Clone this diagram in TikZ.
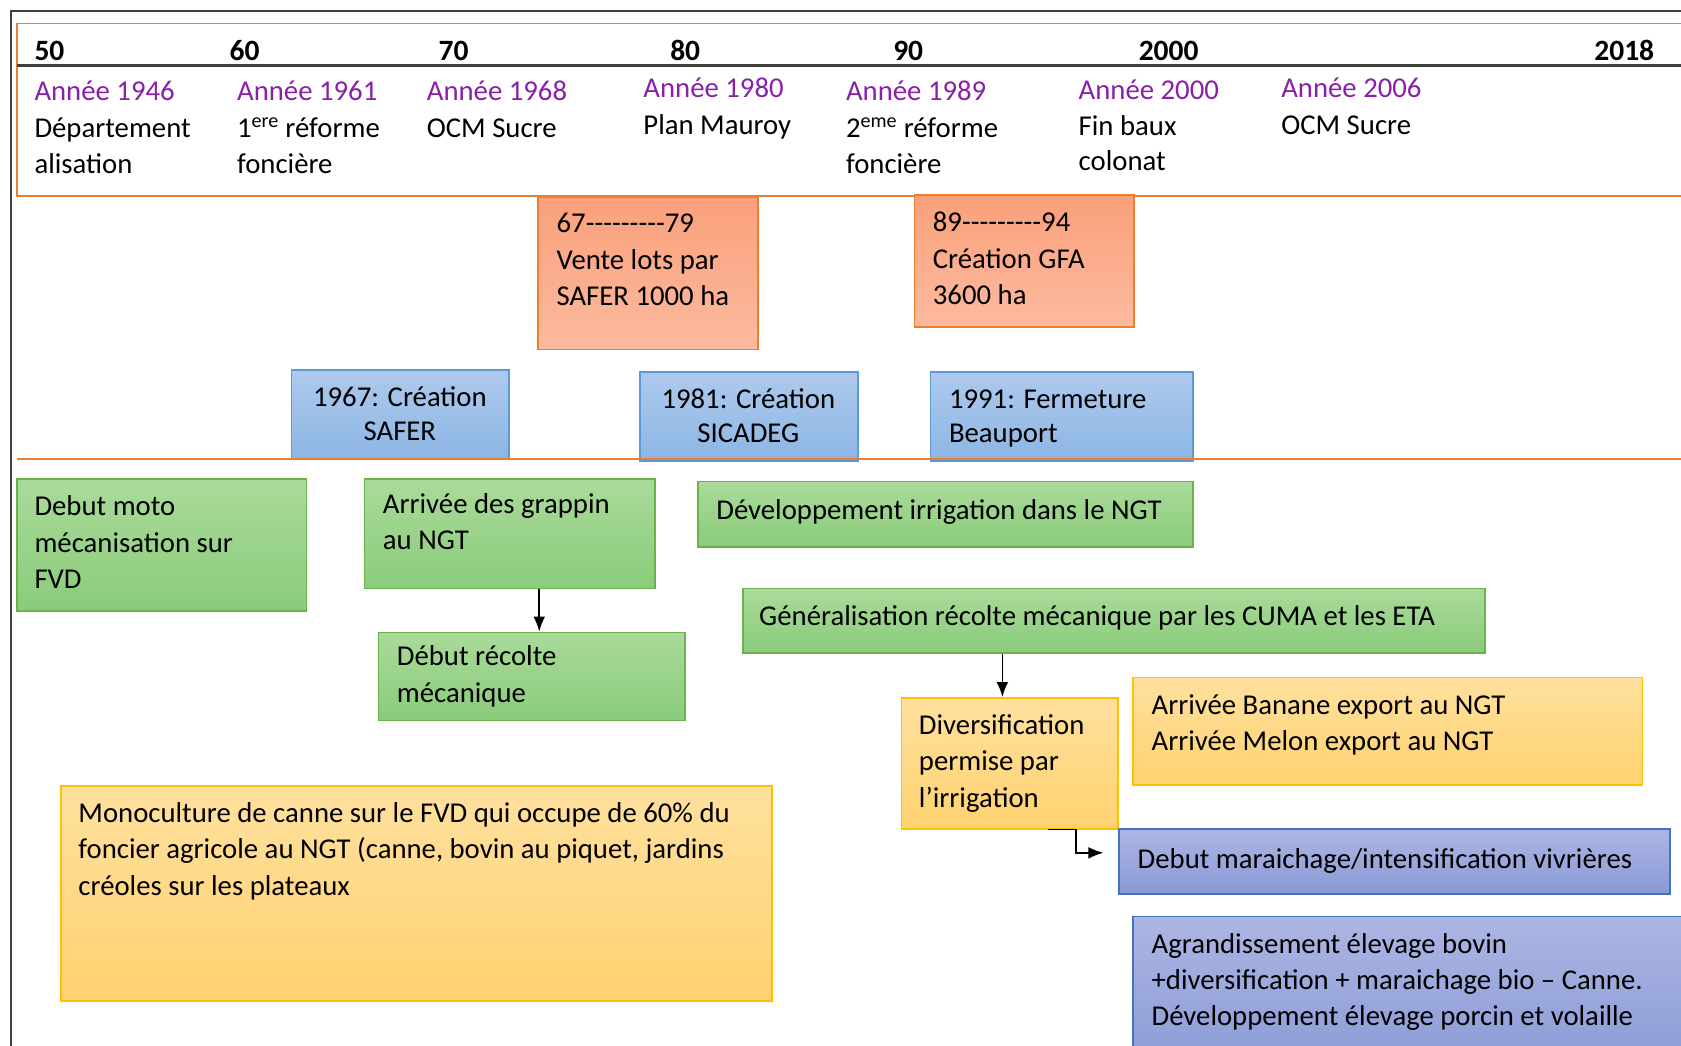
\documentclass[tikz,border=0pt]{standalone}
\usepackage{fontspec}
\setmainfont{Carlito}
\usetikzlibrary{arrows.meta,fit}
\definecolor{ofOrange}{RGB}{237,125,49}
\definecolor{ofPurple}{RGB}{138,32,168}
\definecolor{grBorder}{RGB}{106,178,76}
\definecolor{grTop}{RGB}{170,218,154}
\definecolor{grBot}{RGB}{138,204,122}
\definecolor{blBorder}{RGB}{91,155,213}
\definecolor{blTop}{RGB}{174,201,236}
\definecolor{blBot}{RGB}{140,182,228}
\definecolor{saTop}{RGB}{250,160,122}
\definecolor{saBot}{RGB}{252,186,160}
\definecolor{yeBorder}{RGB}{255,192,0}
\definecolor{yeTop}{RGB}{255,224,158}
\definecolor{yeBot}{RGB}{255,210,112}
\definecolor{viBorder}{RGB}{68,114,196}
\definecolor{viTop}{RGB}{172,182,227}
\definecolor{viBot}{RGB}{138,154,214}
\newcommand\hyphs{-{}-{}-{}-{}-{}-{}-{}-{}-}
\tikzset{
  box/.style={draw, line width=1.6pt, inner sep=0pt, rectangle},
  greenbox/.style={box, draw=grBorder, top color=grTop, bottom color=grBot},
  bluebox/.style={box, draw=blBorder, top color=blTop, bottom color=blBot},
  salmonbox/.style={box, draw=ofOrange, top color=saTop, bottom color=saBot},
  yellowbox/.style={box, draw=yeBorder, top color=yeTop, bottom color=yeBot},
  violetbox/.style={box, draw=viBorder, top color=viTop, bottom color=viBot},
  txt/.style={inner sep=0pt, anchor=base west, align=left, font=\fontsize{26.8}{34}\selectfont},
  ctxt/.style={txt, anchor=base, align=center},
  decade/.style={inner sep=0pt, anchor=base west, font=\fontsize{27.5}{34}\selectfont\bfseries},
  arr/.style={-{Latex[length=14pt,width=11pt]}, line width=1.5pt, black},
}
\begin{document}
\begin{tikzpicture}[x=1pt,y=-1pt]
\clip (0,0) rectangle (1568,975);
\fill[white] (0,0) rectangle (1568,975);
% outer frame
\draw[line width=1.8pt, black!75] (10.5,980) -- (10.5,10) -- (1580,10);
% header
\node[box, draw=ofOrange, fit={(16,22)(1590,183)}] (header) {};
\draw[line width=2.2pt, black!75] (16,61) -- (1590,61);
\node[decade] (d50) at (32,56) {50};
\node[decade] (d60) at (214,56) {60};
\node[decade] (d70) at (409,56) {70};
\node[decade] (d80) at (625,56) {80};
\node[decade] (d90) at (833,56) {90};
\node[decade] (d2000) at (1062,56) {2000};
\node[decade] (d2018) at (1487,56) {2018};
\node[txt] (y1946) at (32,162) {\textcolor{ofPurple}{Année 1946}\\Département\\alisation};
\node[txt] (y1961) at (221,162) {\textcolor{ofPurple}{Année 1961}\\1\textsuperscript{ere} réforme\\foncière};
\node[txt] (y1968) at (398,128) {\textcolor{ofPurple}{Année 1968}\\OCM Sucre};
\node[txt] (y1980) at (600,125) {\textcolor{ofPurple}{Année 1980}\\Plan Mauroy};
\node[txt] (y1989) at (789,162) {\textcolor{ofPurple}{Année 1989}\\2\textsuperscript{eme} réforme\\foncière};
\node[txt, font=\fontsize{26.8}{33}\selectfont] (y2000) at (1006,159) {\textcolor{ofPurple}{Année 2000}\\Fin baux\\colonat};
\node[txt] (y2006) at (1195,125) {\textcolor{ofPurple}{Année 2006}\\OCM Sucre};
% salmon boxes
\node[salmonbox, fit={(502,184)(707,326)}] (safer) {};
\node[txt] (saferT) at (519,285) {67\hyphs79\\Vente lots par\\SAFER 1000 ha};
\node[salmonbox, fit={(853,182)(1058,305)}] (gfa) {};
\node[txt] (gfaT) at (870,284) {89\hyphs94\\Création GFA\\3600 ha};
% blue boxes
\node[bluebox, fit={(272,345)(475,428)}] (c1967) {};
\node[ctxt, font=\fontsize{26.8}{32}\selectfont] (c1967T) at (373,411) {1967: Création\\SAFER};
\node[bluebox, fit={(597,347)(800,430)}] (c1981) {};
\node[ctxt, font=\fontsize{26.8}{32}\selectfont] (c1981T) at (698,413) {1981: Création\\SICADEG};
\node[bluebox, fit={(868,347)(1113,430)}] (c1991) {};
\node[txt, font=\fontsize{26.8}{32}\selectfont] (c1991T) at (885,413) {1991: Fermeture\\Beauport};
% orange separator
\draw[ofOrange, line width=1.6pt] (16,428) -- (1590,428);
% green boxes
\node[greenbox, fit={(16,447)(286,570)}] (moto) {};
\node[txt] (motoT) at (32,549) {Debut moto\\mécanisation sur\\FVD};
\node[greenbox, fit={(340,447)(611,549)}] (grappin) {};
\node[txt] (grappinT) at (357,513) {Arrivée des grappin\\au NGT};
\node[greenbox, fit={(353,590)(639,672)}] (recolte) {};
\node[txt] (recolteT) at (370,655) {Début récolte\\mécanique};
\node[greenbox, fit={(651,449)(1113,510)}] (irrig) {};
\node[txt] (irrigT) at (668,485) {Développement irrigation dans le NGT};
\node[greenbox, fit={(693,549)(1385,609)}] (gen) {};
\node[txt] (genT) at (708,583) {Généralisation récolte mécanique par les CUMA et les ETA};
% yellow boxes
\node[yellowbox, fit={(841,651)(1043,773)}] (div) {};
\node[txt] (divT) at (857,753) {Diversification\\permise par\\l’irrigation};
\node[yellowbox, fit={(1057,632)(1532,732)}] (banane) {};
\node[txt] (bananeT) at (1074,700) {Arrivée Banane export au NGT\\Arrivée Melon export au NGT};
\node[yellowbox, fit={(57,733)(720,934)}] (mono) {};
\node[txt] (monoT) at (73,835) {Monoculture de canne sur le FVD qui occupe de 60\% du\\foncier agricole au NGT (canne, bovin au piquet, jardins\\créoles sur les plateaux};
% violet boxes
\node[violetbox, fit={(1044,773)(1558,834)}] (mar) {};
\node[txt] (marT) at (1061,810) {Debut maraichage/intensification vivrières};
\node[violetbox, fit={(1057,855)(1600,1000)}] (agr) {};
\node[txt] (agrT) at (1074,957) {Agrandissement élevage bovin\\+diversification + maraichage bio – Canne.\\Développement élevage porcin et volaille};
% connectors
\draw[arr] (grappin.south -| 503,0) -- (recolte.north -| 503,0);
\draw[arr] (gen.south -| 935,0) -- (div.north -| 935,0);
\draw[arr] ([xshift=-66pt]div.south east) -- ++(26,0) |- ([xshift=-14pt,yshift=8pt]mar.west);
\end{tikzpicture}
\end{document}
